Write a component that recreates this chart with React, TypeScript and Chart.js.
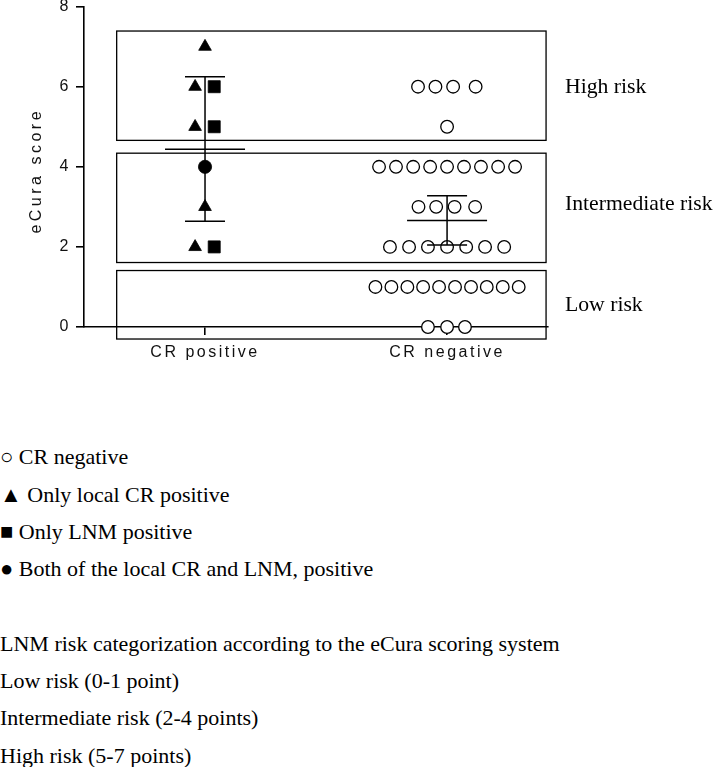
import React, { useEffect, useRef } from 'react';
import { Chart, registerables } from 'chart.js';

Chart.register(...registerables);

// ---- data ----
const groupNames = ['CR positive', 'CR negative'];
const groupPositions = [1, 2];

// CR negative (open circles): score and horizontal jitter around the group position
const crNegScores = [6, 6, 6, 6, 5, 4, 4, 4, 4, 4, 4, 4, 4, 4, 3, 3, 3, 3, 2, 2, 2, 2, 2, 2, 2, 1, 1, 1, 1, 1, 1, 1, 1, 1, 1, 0, 0, 0];
const crNegJitter = [
  -0.12, -0.048, 0.025, 0.118,
  0,
  -0.281, -0.211, -0.14, -0.07, 0, 0.07, 0.14, 0.211, 0.281,
  -0.118, -0.045, 0.031, 0.116,
  -0.236, -0.157, -0.079, 0, 0.079, 0.157, 0.236,
  -0.296, -0.23, -0.164, -0.099, -0.033, 0.033, 0.099, 0.164, 0.23, 0.296,
  -0.079, 0, 0.074,
];

// CR positive subgroups
const localCrScores = [7, 6, 5, 3, 2];
const localCrJitter = [0, -0.041, -0.041, 0, -0.041];
const lnmScores = [6, 5, 2];
const lnmJitter = [0.038, 0.038, 0.038];
const bothScores = [4];
const bothJitter = [0];

// mean and error bars per group
const groupMean = [4.44, 2.66];
const groupUpper = [6.25, 3.28];
const groupLower = [2.64, 2.05];

// risk bands
const riskNames = ['Low risk', 'Intermediate risk', 'High risk'];
const riskBandBottom = [-0.3, 1.61, 4.66];
const riskBandTop = [1.41, 4.34, 7.39];
const riskLabelAt = [0.53, 3.07, 5.99];
const bandXRange = [0.635, 2.409];

const yTickMin = 0;
const yTickMax = 8;
const yTickStep = 2;

const legendLines = [
  '\u25CB CR negative',
  '\u25B2 Only local CR positive',
  '\u25A0 Only LNM positive',
  '\u25CF Both of the local CR and LNM, positive',
  '',
  'LNM risk categorization according to the eCura scoring system',
  'Low risk (0-1 point)',
  'Intermediate risk (2-4 points)',
  'High risk (5-7 points)',
];

const CANVAS_TOP = -8;
const CANVAS_H = 375;

const pts = (scores: number[], jitter: number[], g: number) =>
  scores.map((s, i) => ({ x: groupPositions[g] + jitter[i], y: s }));

const annotPlugin = {
  id: 'annot',
  beforeDraw(chart: any) {
    chart.ctx.letterSpacing = '2.5px';
  },
  beforeDatasetsDraw(chart: any) {
    const { ctx, scales } = chart;
    const x = scales.x, y = scales.y;
    ctx.save();
    ctx.letterSpacing = '0px';
    ctx.strokeStyle = '#000';
    ctx.lineWidth = 1.3;
    const l = x.getPixelForValue(bandXRange[0]);
    const r = x.getPixelForValue(bandXRange[1]);
    for (let i = 0; i < riskNames.length; i++) {
      const t = y.getPixelForValue(riskBandTop[i]);
      const b = y.getPixelForValue(riskBandBottom[i]);
      ctx.strokeRect(l, t, r - l, b - t);
    }
    ctx.restore();
  },
  afterDatasetsDraw(chart: any) {
    const { ctx, scales } = chart;
    const x = scales.x, y = scales.y;
    ctx.save();
    ctx.strokeStyle = '#000';
    ctx.lineWidth = 1.5;
    for (let g = 0; g < groupPositions.length; g++) {
      const px = x.getPixelForValue(groupPositions[g]);
      const pm = y.getPixelForValue(groupMean[g]);
      const pu = y.getPixelForValue(groupUpper[g]);
      const pl = y.getPixelForValue(groupLower[g]);
      ctx.beginPath();
      ctx.moveTo(px, pu); ctx.lineTo(px, pl);
      ctx.moveTo(px - 40, pm); ctx.lineTo(px + 40, pm);
      ctx.moveTo(px - 20, pu); ctx.lineTo(px + 20, pu);
      ctx.moveTo(px - 20, pl); ctx.lineTo(px + 20, pl);
      ctx.stroke();
    }
    ctx.restore();
  },
  afterDraw(chart: any) {
    const { ctx, scales, chartArea } = chart;
    const y = scales.y;
    ctx.letterSpacing = '0px';
    ctx.save();
    ctx.fillStyle = '#000';
    ctx.font = '21.7px "Liberation Serif", "Times New Roman", serif';
    ctx.textAlign = 'left';
    ctx.textBaseline = 'middle';
    for (let i = 0; i < riskNames.length; i++) {
      ctx.fillText(riskNames[i], chartArea.right + 17, y.getPixelForValue(riskLabelAt[i]));
    }
    ctx.restore();

    ctx.save();
    ctx.translate(37, (y.top + y.bottom) / 2 + 4);
    ctx.rotate(-Math.PI / 2);
    ctx.font = '16px "Liberation Sans", Arial, sans-serif';
    ctx.letterSpacing = '3.5px';
    ctx.fillStyle = '#111';
    ctx.textAlign = 'center';
    ctx.textBaseline = 'middle';
    ctx.fillText('eCura score', 0, 0);
    ctx.restore();
  },
};

export default function App() {
  const ref = useRef<HTMLCanvasElement>(null);

  useEffect(() => {
    if (!ref.current) return;
    const tickFont = { family: '"Liberation Sans", Arial, sans-serif', size: 16 };
    const chart = new Chart(ref.current, {
      type: 'scatter',
      data: {
        datasets: [
          {
            label: 'CR negative',
            data: pts(crNegScores, crNegJitter, 1),
            pointStyle: 'circle',
            pointRadius: 6.3,
            pointBorderWidth: 1.3,
            borderColor: '#000',
            backgroundColor: '#fff',
            clip: false,
          } as any,
          {
            label: 'Only local CR positive',
            data: pts(localCrScores, localCrJitter, 0),
            pointStyle: 'triangle',
            pointRadius: 7.3,
            pointBorderWidth: 0.8,
            borderColor: '#000',
            backgroundColor: '#000',
            clip: false,
          },
          {
            label: 'Only LNM positive',
            data: pts(lnmScores, lnmJitter, 0),
            pointStyle: 'rect',
            pointRadius: 8.5,
            pointBorderWidth: 0.8,
            borderColor: '#000',
            backgroundColor: '#000',
            clip: false,
          },
          {
            label: 'Both of the local CR and LNM, positive',
            data: pts(bothScores, bothJitter, 0),
            pointStyle: 'circle',
            pointRadius: 6.6,
            pointBorderWidth: 0.8,
            borderColor: '#000',
            backgroundColor: '#000',
            clip: false,
          },
        ],
      },
      options: {
        animation: false,
        responsive: false,
        events: [],
        layout: { padding: { left: 0, right: 165, top: 0, bottom: 0 } },
        plugins: { legend: { display: false }, tooltip: { enabled: false } },
        scales: {
          x: {
            type: 'linear',
            min: 0.5,
            max: 2.417,
            afterBuildTicks: (s: any) => {
              s.ticks = groupPositions.map((v) => ({ value: v }));
            },
            afterFit: (s: any) => {
              s.height = 40;
            },
            ticks: {
              callback: (v: any) => groupNames[groupPositions.indexOf(Number(v))] ?? '',
              font: tickFont,
              color: '#111',
              padding: 8,
              maxRotation: 0,
              autoSkip: false,
            },
            grid: { drawOnChartArea: false, drawTicks: true, tickLength: 8, color: '#000', lineWidth: 1.6 },
            border: { display: true, color: '#000', width: 1.6 },
          },
          y: {
            type: 'linear',
            min: yTickMin,
            max: yTickMax,
            afterFit: (s: any) => {
              s.width = 84;
            },
            ticks: { stepSize: yTickStep, font: tickFont, color: '#111', padding: 5 },
            grid: { drawOnChartArea: false, drawTicks: true, tickLength: 8, color: '#000', lineWidth: 1.6 },
            border: { display: true, color: '#000', width: 1.6 },
            title: { display: false },
          },
        },
      },
      plugins: [annotPlugin],
    } as any);
    return () => chart.destroy();
  }, []);

  return (
    <div style={{ position: 'absolute', left: 0, top: 0, width: 713, height: 767, background: '#fff', overflow: 'hidden' }}>
      <canvas
        ref={ref}
        width={713}
        height={CANVAS_H}
        style={{ position: 'absolute', left: 0, top: CANVAS_TOP, width: 713, height: CANVAS_H, display: 'block' }}
      />
      <div
        style={{
          position: 'absolute',
          left: 0,
          top: 438.3,
          fontFamily: '"Liberation Serif", "Times New Roman", serif',
          fontSize: 22,
          lineHeight: '37.3px',
          color: '#000',
          whiteSpace: 'pre',
        }}
      >
        {legendLines.map((t, i) => (
          <div key={i} style={{ height: 37.3 }}>{t || '\u00A0'}</div>
        ))}
      </div>
    </div>
  );
}
